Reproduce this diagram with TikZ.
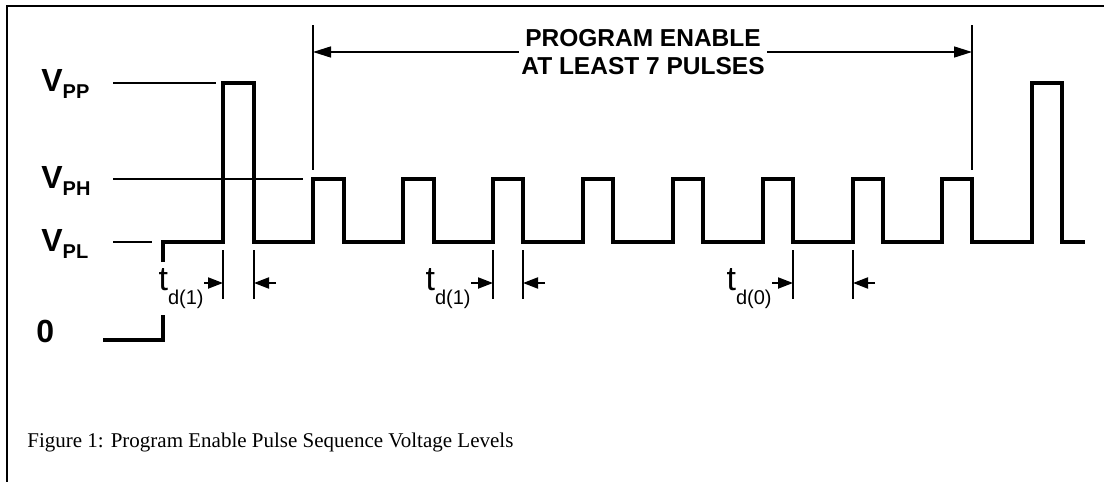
\documentclass[tikz,border=0pt]{standalone}
\usepackage{fontspec}
\setmainfont{Liberation Serif}
\setsansfont{Liberation Sans}
\usetikzlibrary{arrows.meta,calc,positioning}

\newcommand{\vlev}[1]{V\raisebox{-3.5pt}{\fontsize{10}{10}\selectfont #1}}
\newcommand{\tdel}[1]{t\raisebox{-7pt}{\fontsize{10}{10}\selectfont d(#1)}}

\tikzset{
  wave/.style={line width=1.75pt},
  levline/.style={line width=0.65pt},
  barline/.style={line width=0.75pt},
  tickline/.style={line width=1pt},
  dimarrow/.style={line width=1pt, -{Triangle[length=7.5pt,width=5.5pt]}},
  enarrow/.style={line width=0.75pt, -{Triangle[length=9pt,width=5.5pt]}},
  levlabel/.style={font=\sffamily\bfseries\fontsize{16}{16}\selectfont, inner sep=0pt, anchor=base west},
  tdlabel/.style={font=\sffamily\fontsize{17}{17}\selectfont, inner sep=0pt, anchor=base east},
}

\begin{document}
\begin{tikzpicture}[x=0.5pt, y=-0.5pt]
\useasboundingbox (0,0) rectangle (1104,482);
% frame
\draw[line width=1pt] (1104,6) -- (7,6) -- (7,482);

% level labels and level lines
\node[levlabel] (vpp) at (41,91) {\vlev{PP}};
\node[levlabel] (vph) at (41,188) {\vlev{PH}};
\node[levlabel] (vpl) at (41,251) {\vlev{PL}};
\node[levlabel] (vzero) at (36,342) {0};
\draw[levline] (113,83) -- (216,83);
\draw[levline] (113,179) -- (303,179);
\draw[levline] (113,242) -- (152,242);

% waveform
\draw[wave] (103,340) -- (163,340) -- (163,315);
\draw[wave] (163,262) -- (163,242) -- (223,242) -- (223,83) -- (254,83) -- (254,242)
  -- (313,242) -- (313,179) -- (344,179) -- (344,242)
  -- (403,242) -- (403,179) -- (434,179) -- (434,242)
  -- (493,242) -- (493,179) -- (523,179) -- (523,242)
  -- (583,242) -- (583,179) -- (613,179) -- (613,242)
  -- (673,242) -- (673,179) -- (703,179) -- (703,242)
  -- (763,242) -- (763,179) -- (793,179) -- (793,242)
  -- (853,242) -- (853,179) -- (883,179) -- (883,242)
  -- (942,242) -- (942,179) -- (972,179) -- (972,242)
  -- (1032,242) -- (1032,83) -- (1062,83) -- (1062,242) -- (1085,242);

% program enable span
\coordinate (lbar) at (313,52);
\coordinate (rbar) at (972,52);
\draw[barline] (313,25) -- (313,170);
\draw[barline] (972,25) -- (972,170);
\node[font=\sffamily\bfseries\fontsize{12.25}{14}\selectfont, align=center, inner sep=1pt] (enable) at (643,52) {PROGRAM ENABLE\\AT LEAST 7 PULSES};
\draw[enarrow] (enable.west |- lbar) -- (lbar);
\draw[enarrow] (enable.east |- rbar) -- (rbar);

% delay markers
\draw[tickline] (223,250) -- (223,299);
\draw[tickline] (254,250) -- (254,299);
\draw[tickline] (493,250) -- (493,299);
\draw[tickline] (523,250) -- (523,299);
\draw[tickline] (793,250) -- (793,299);
\draw[tickline] (853,250) -- (853,299);
\node[tdlabel] (tdA) at (204,290) {\tdel{1}};
\node[tdlabel] (tdB) at (471,290) {\tdel{1}};
\node[tdlabel] (tdC) at (772,290) {\tdel{0}};
\coordinate (kA) at (223,283);
\coordinate (kB) at (493,283);
\coordinate (kC) at (793,283);
\draw[dimarrow] (tdA.east |- kA) -- (kA);
\draw[dimarrow] (tdB.east |- kB) -- (kB);
\draw[dimarrow] (tdC.east |- kC) -- (kC);
\draw[dimarrow] (276,283) -- (254,283);
\draw[dimarrow] (545,283) -- (523,283);
\draw[dimarrow] (875,283) -- (853,283);

% caption
\node[font=\fontsize{10.5}{10.5}\selectfont, inner sep=0pt, anchor=base west] (caption) at (27,447) {Figure 1: Program Enable Pulse Sequence Voltage Levels};
\end{tikzpicture}
\end{document}
